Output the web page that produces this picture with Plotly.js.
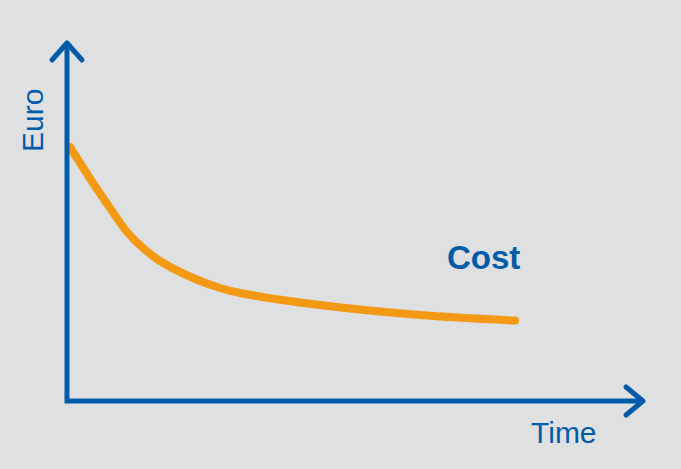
<!DOCTYPE html>
<html>
<head>
<meta charset="utf-8">
<script src="https://cdn.plot.ly/plotly-3.0.1.min.js"></script>
<style>
  html, body { margin: 0; padding: 0; background: #dfe0e2; }
  #chart { width: 681px; height: 469px; }
  .js-line { stroke-linecap: round; stroke-linejoin: round; }
</style>
</head>
<body>
<div id="chart"></div>
<script>
// Time (arbitrary units) and cost (arbitrary units)
var time = [3, 26, 43, 60, 76, 93, 126, 153, 173, 253, 353, 448];
var cost = [254, 218, 193, 169, 153, 140, 123, 113, 108, 96, 86, 80.5];

var blue = '#005ca9';
var orange = '#f39914';
var bg = '#dfe0e2';

var xMax = 576, yMax = 358;

var trace = {
  x: time,
  y: cost,
  type: 'scatter',
  mode: 'lines',
  line: { color: orange, width: 8, shape: 'spline', smoothing: 1 },
  hoverinfo: 'skip'
};

var layout = {
  width: 681,
  height: 469,
  margin: { l: 0, r: 0, t: 0, b: 0, pad: 0 },
  paper_bgcolor: bg,
  plot_bgcolor: bg,
  showlegend: false,
  xaxis: { range: [-67, 614], visible: false, fixedrange: true },
  yaxis: { range: [-68, 401], visible: false, fixedrange: true },
  shapes: [
    { type: 'path', xref: 'x', yref: 'y', layer: 'above',
      path: 'M0,' + (yMax - 2) + ' L0,0 L' + (xMax - 2) + ',0',
      line: { color: blue, width: 5 } },
    { type: 'path', xref: 'x', yref: 'y', layer: 'above',
      path: 'M-15,341 L0,' + yMax + ' L15,341',
      line: { color: blue, width: 5 } },
    { type: 'path', xref: 'x', yref: 'y', layer: 'above',
      path: 'M559,14 L' + xMax + ',0 L559,-14',
      line: { color: blue, width: 5 } }
  ],
  annotations: [
    { text: 'Euro', x: -35, y: 280, xref: 'x', yref: 'y', showarrow: false,
      textangle: -90, xanchor: 'center', yanchor: 'middle',
      font: { family: 'Liberation Sans, Arial, sans-serif', size: 30, color: blue } },
    { text: 'Time', x: 497, y: -31, xref: 'x', yref: 'y', showarrow: false,
      xanchor: 'center', yanchor: 'middle',
      font: { family: 'Liberation Sans, Arial, sans-serif', size: 30, color: blue } },
    { text: '<b>Cost</b>', x: 416.5, y: 143.5, xref: 'x', yref: 'y', showarrow: false,
      xanchor: 'center', yanchor: 'middle',
      font: { family: 'Liberation Sans, Arial, sans-serif', size: 33, color: blue } }
  ]
};

Plotly.newPlot('chart', [trace], layout, { staticPlot: true, displayModeBar: false }).then(function () {
  var paths = document.querySelectorAll('.shapelayer path');
  for (var i = 1; i < paths.length; i++) {
    paths[i].style.strokeLinecap = 'round';
    paths[i].style.strokeLinejoin = 'round';
  }
});
</script>
</body>
</html>
